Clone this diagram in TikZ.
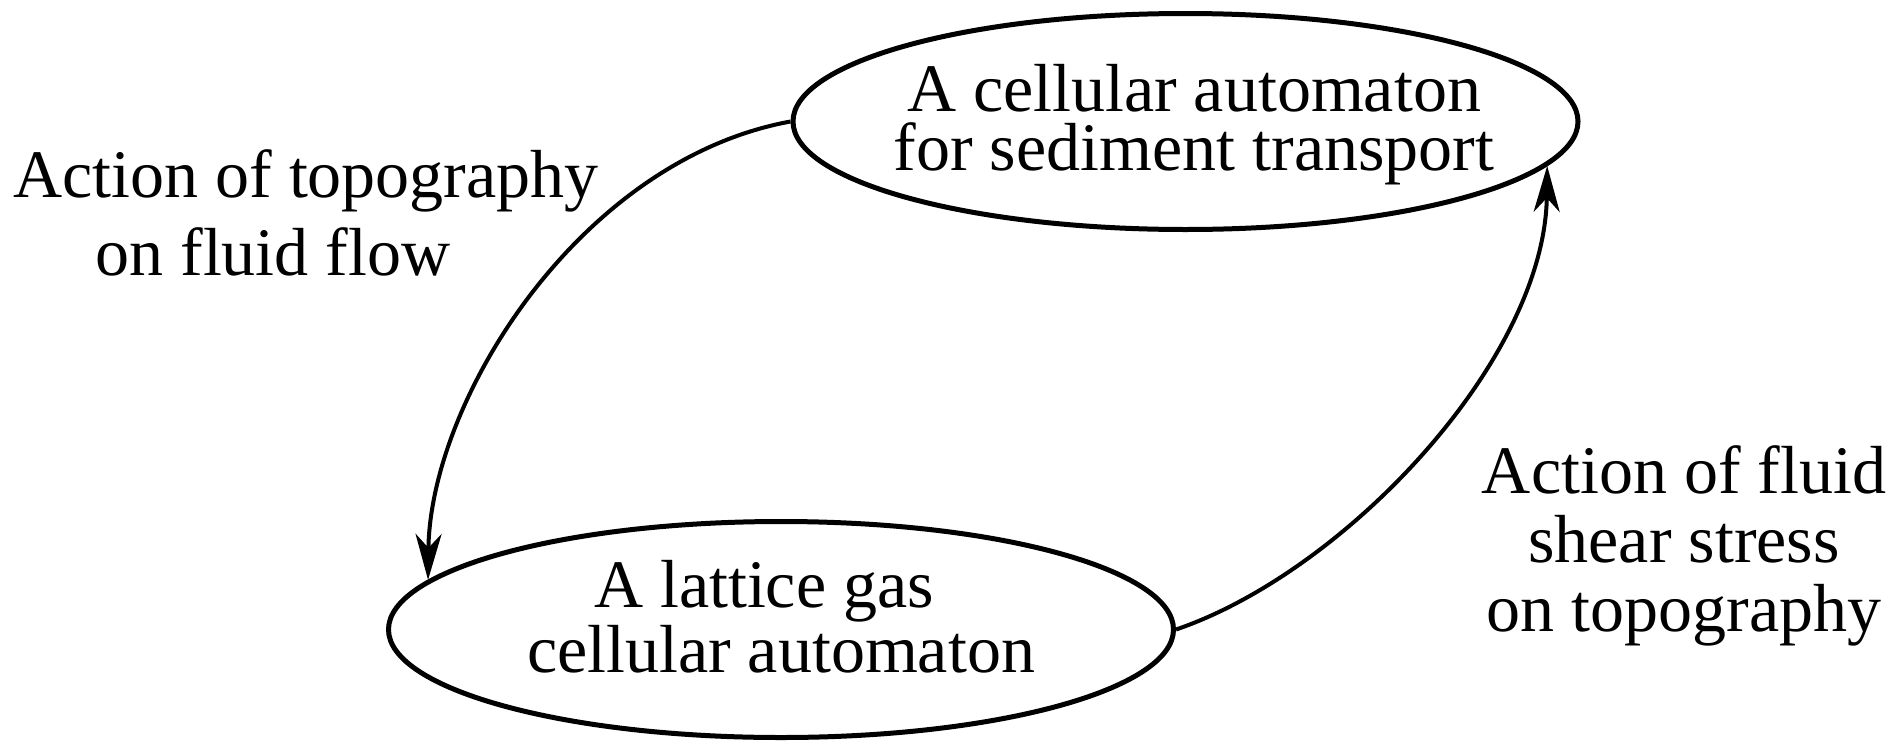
\documentclass[tikz,border=0pt]{standalone}
\usepackage{fontspec}
\setmainfont{Liberation Serif}
\usetikzlibrary{shapes.geometric,arrows.meta}
\begin{document}
\begin{tikzpicture}[x=1pt,y=-1pt,
  oval/.style={draw, ellipse, line width=5pt, minimum width=785pt, minimum height=216pt, inner sep=0pt},
  txt/.style={align=center, inner sep=0pt},
  link/.style={line width=4pt, -{Stealth[length=46pt,width=26pt,inset=14pt]}}]
\useasboundingbox (0,0) rectangle (1892,742);
\node[oval] (top) at (1185.5,121.5) {};
\node[oval] (bot) at (781,629.5) {};
\draw[link] (top.west) .. controls (580,160) and (430,400) .. (bot.172);
\draw[link] (bot.east) .. controls (1345,572) and (1545,360) .. (top.-7.4);
\node[txt, font=\fontsize{68}{59}\selectfont] (ttop) at (1194,124.5) {A cellular automaton\\for sediment transport};
\node[txt, font=\fontsize{68}{65}\selectfont] (tbot) at (781,616.5) {A lattice gas\rule{34pt}{0pt}\\cellular automaton};
\node[txt, font=\fontsize{68}{78}\selectfont] (tleft) at (306,213) {Action of topography\\on fluid flow\rule{66pt}{0pt}};
\node[txt, font=\fontsize{68}{69}\selectfont] (tright) at (1684,545.5) {Action of fluid\\shear stress\\on topography};
\end{tikzpicture}
\end{document}
